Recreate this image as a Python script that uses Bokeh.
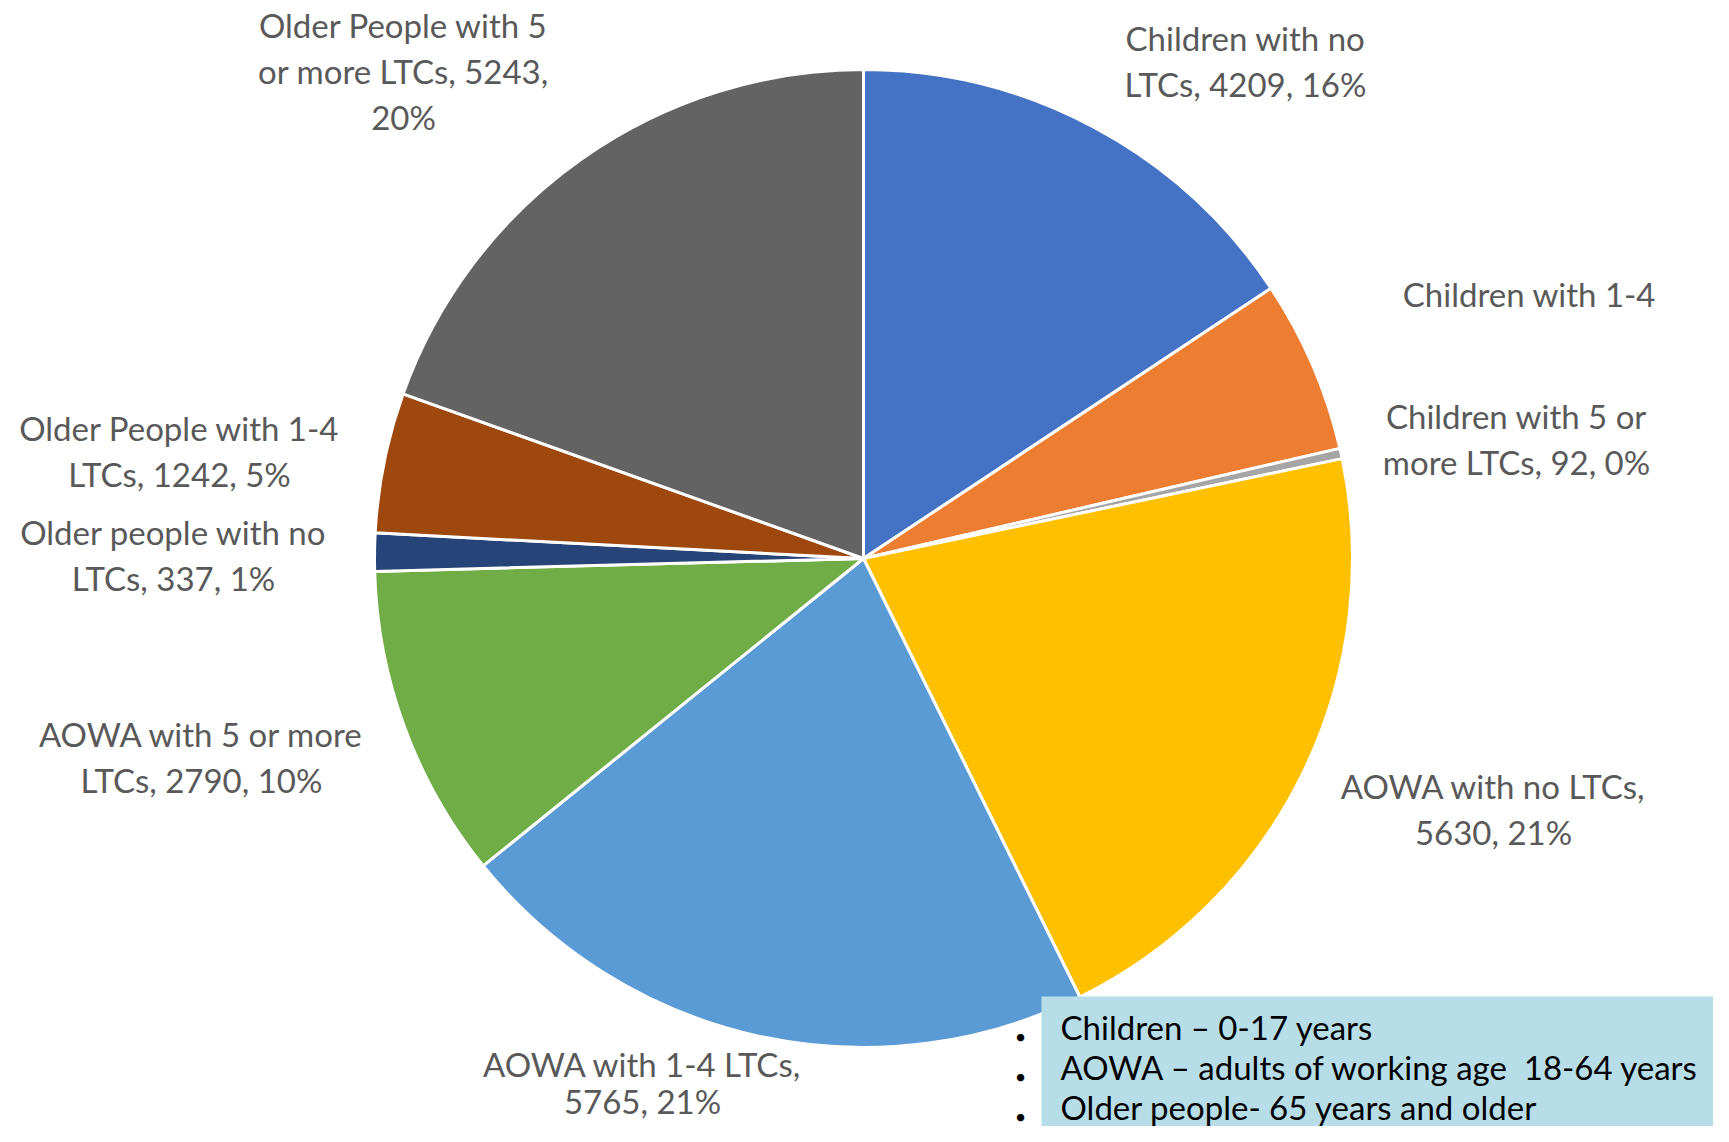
from bokeh.plotting import figure
from bokeh.models import Range1d, ColumnDataSource
from bokeh.core.properties import value
from bokeh.embed import file_html
from bokeh.resources import INLINE
import numpy as np

# ---- data ----
categories = [
    "Children with no LTCs", "Children with 1-4 LTCs", "Children with 5 or more LTCs",
    "AOWA with no LTCs", "AOWA with 1-4 LTCs", "AOWA with 5 or more LTCs",
    "Older people with no LTCs", "Older People with 1-4 LTCs", "Older People with 5 or more LTCs",
]
counts = [4209, 1530, 92, 5630, 5765, 2790, 337, 1242, 5243]
label_lines = [
    ["Children with no", "LTCs, 4209, 16%"],
    ["Children with 1-4"],
    ["Children with 5 or", "more LTCs, 92, 0%"],
    ["AOWA with no LTCs,", "5630, 21%"],
    ["AOWA with 1-4 LTCs,", "5765, 21%"],
    ["AOWA with 5 or more", "LTCs, 2790, 10%"],
    ["Older people with no", "LTCs, 337, 1%"],
    ["Older People with 1-4", "LTCs, 1242, 5%"],
    ["Older People with 5", "or more LTCs, 5243,", "20%"],
]
note_lines = [
    "Children \u2013 0-17 years",
    "AOWA \u2013 adults of working age \u00a018-64 years",
    "Older people- 65 years and older",
]

# ---- styles / layout (pixel coords, y downward) ----
colors = ["#4472C4", "#ED7D31", "#A5A5A5", "#FFC000", "#5B9BD5",
          "#70AD47", "#264478", "#9E480E", "#636363"]
label_pos = [(1245, 37), (1529, 293), (1516, 415), (1493, 785), (642, 1063),
             (201, 733), (173, 531), (179, 427), (403, 24)]
label_step = [46, 46, 46, 46, 37, 46, 46, 46, 46]
FONT = "Lato"
FS = "33px"
FS_NOTE = "33px"

W, H = 1713, 1126
p = figure(width=W, height=H, output_backend="svg", toolbar_location=None,
           x_range=Range1d(0, W), y_range=Range1d(-H, 0), min_border=0)
p.axis.visible = False
p.grid.visible = False
p.outline_line_color = None
p.background_fill_color = "white"

cx, cy, r = 863, 558, 489
vals = np.array(counts, dtype=float)
frac = vals / vals.sum()
cum = np.concatenate([[0], np.cumsum(frac)])
start = np.pi / 2 - cum[:-1] * 2 * np.pi
end = np.pi / 2 - cum[1:] * 2 * np.pi
src = ColumnDataSource(dict(start=start, end=end, color=colors, name=categories))
p.wedge(x=cx, y=-cy, radius=r, start_angle="start", end_angle="end",
        direction="clock", fill_color="color", line_color="white",
        line_width=3, source=src)

# data labels
for lines, (lx, ly), step in zip(label_lines, label_pos, label_step):
    for i, t in enumerate(lines):
        p.text(x=[lx], y=[-(ly + i * step)], text=[t], text_align="center",
               text_baseline="middle", text_color="#595959",
               text_font=value(FONT), text_font_size=FS)

# note box
p.quad(left=[1041], right=[W + 5], top=[-996], bottom=[-H - 5],
       fill_color="#B7DEE8", line_color=None)
for i, t in enumerate(note_lines):
    y = 1026 + i * 40
    p.text(x=[1060], y=[-y], text=[t], text_align="left",
           text_baseline="middle", text_color="black",
           text_font=value(FONT), text_font_size=FS_NOTE)
    p.text(x=[1020], y=[-(y + 9)], text=["\u2022"], text_align="center",
           text_baseline="middle", text_color="black",
           text_font=value(FONT), text_font_size="20px")

open("out.html", "w").write(file_html(p, INLINE))
